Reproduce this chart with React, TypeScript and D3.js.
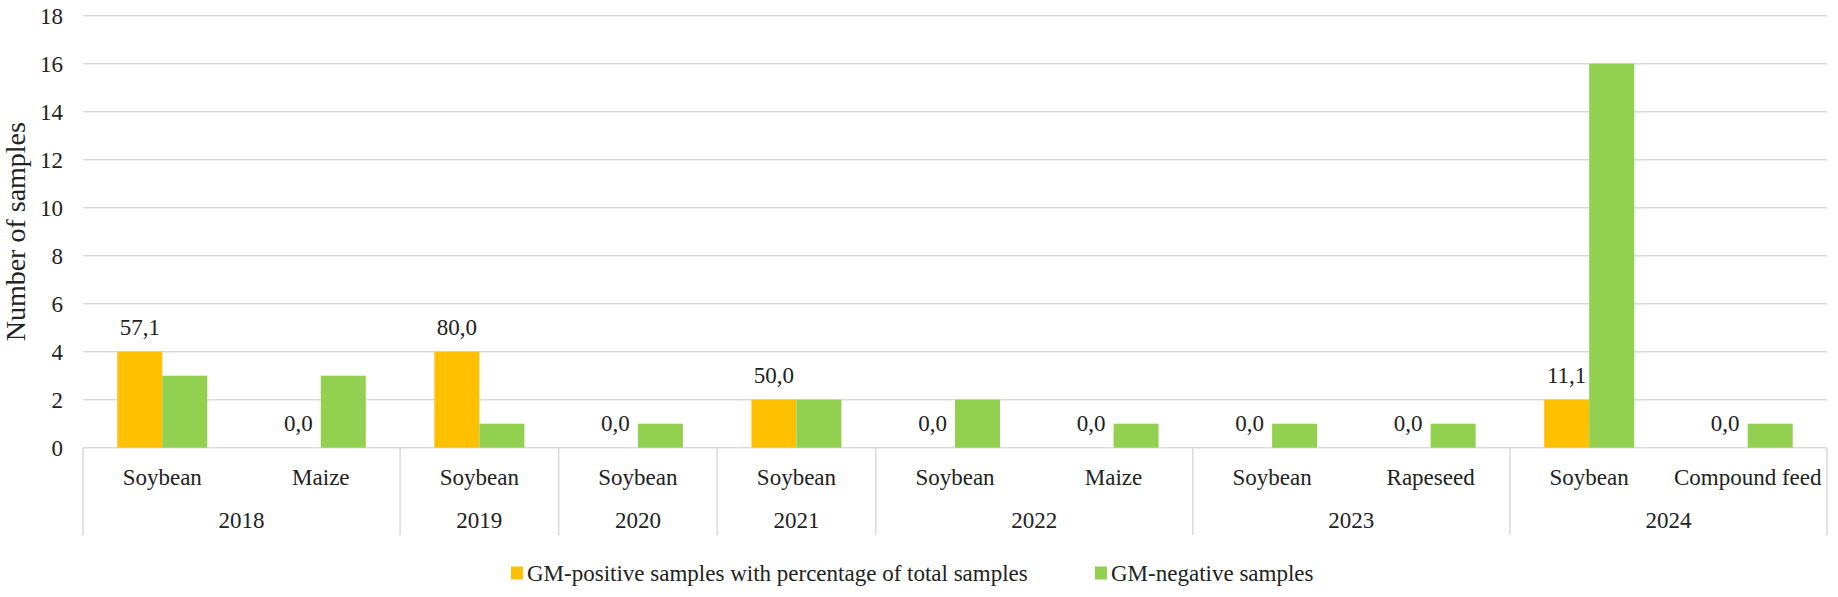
import React from 'react';
import * as d3 from 'd3';

// sample types per year (Excel-style two-level axis)
const categories = [
  'Soybean', 'Maize', 'Soybean', 'Soybean', 'Soybean', 'Soybean', 'Maize',
  'Soybean', 'Rapeseed', 'Soybean', 'Compound feed',
];
const years = [
  '2018', '2018', '2019', '2020', '2021', '2022', '2022',
  '2023', '2023', '2024', '2024',
];
const positive = [4, 0, 4, 0, 2, 0, 0, 0, 0, 2, 0];
const negative = [3, 3, 1, 1, 2, 2, 1, 1, 1, 16, 1];
const percentLabels = ['57,1', '0,0', '80,0', '0,0', '50,0', '0,0', '0,0', '0,0', '0,0', '11,1', '0,0'];
const yTicks = [0, 2, 4, 6, 8, 10, 12, 14, 16, 18];
const seriesNames = ['GM-positive samples with percentage of total samples', 'GM-negative samples'];
const seriesColors = ['#FFC000', '#92D050'];

const W = 1838;
const H = 597;
const FONT = '"Liberation Serif", "Times New Roman", serif';

function drawChart(el: SVGSVGElement) {
  const svg = d3.select(el);
  svg.selectAll('*').remove();

  const left = 83;
  const right = 1827;
  const top = 15.7;
  const bottom = 447.7;

  const idx = categories.map((_, i) => i);
  const x = d3.scaleBand<number>().domain(idx).range([left, right]).padding(0);
  const inner = d3
    .scaleBand<number>()
    .domain([0, 1])
    .range([0, x.bandwidth()])
    .paddingInner(0)
    .paddingOuter(0.762);
  const y = d3.scaleLinear().domain([0, 18]).range([bottom, top]);

  // gridlines
  svg
    .append('g')
    .selectAll('line')
    .data(yTicks)
    .enter()
    .append('line')
    .attr('x1', left)
    .attr('x2', right)
    .attr('y1', (d) => y(d))
    .attr('y2', (d) => y(d))
    .attr('stroke', '#D9D9D9')
    .attr('stroke-width', 1.5);

  // y tick labels
  svg
    .append('g')
    .selectAll('text')
    .data(yTicks)
    .enter()
    .append('text')
    .attr('x', 63)
    .attr('y', (d) => y(d))
    .attr('dy', '0.35em')
    .attr('text-anchor', 'end')
    .attr('font-family', FONT)
    .attr('font-size', 23)
    .attr('fill', '#222')
    .text((d) => d);

  // y title
  svg
    .append('text')
    .attr('transform', `translate(25, ${(top + bottom) / 2}) rotate(-90)`)
    .attr('text-anchor', 'middle')
    .attr('font-family', FONT)
    .attr('font-size', 28)
    .attr('fill', '#222')
    .text('Number of samples');

  // bars
  const series = [positive, negative];
  series.forEach((vals, s) => {
    svg
      .append('g')
      .selectAll('rect')
      .data(vals)
      .enter()
      .append('rect')
      .attr('x', (_, i) => (x(i) as number) + (inner(s) as number))
      .attr('width', inner.bandwidth())
      .attr('y', (d) => y(d))
      .attr('height', (d) => bottom - y(d))
      .attr('fill', seriesColors[s]);
  });

  // percentage labels on GM-positive bars
  svg
    .append('g')
    .selectAll('text')
    .data(positive)
    .enter()
    .append('text')
    .attr('x', (_, i) => (x(i) as number) + (inner(0) as number) + inner.bandwidth() / 2)
    .attr('y', (d) => y(d) - 25)
    .attr('dy', '0.35em')
    .attr('text-anchor', 'middle')
    .attr('font-family', FONT)
    .attr('font-size', 23)
    .attr('fill', '#222')
    .text((_, i) => percentLabels[i]);

  // category labels
  svg
    .append('g')
    .selectAll('text')
    .data(categories)
    .enter()
    .append('text')
    .attr('x', (_, i) => (x(i) as number) + x.bandwidth() / 2)
    .attr('y', 477)
    .attr('dy', '0.35em')
    .attr('text-anchor', 'middle')
    .attr('font-family', FONT)
    .attr('font-size', 23)
    .attr('fill', '#222')
    .text((d) => d);

  // year groups
  const groups: { year: string; start: number; end: number }[] = [];
  years.forEach((yr, i) => {
    const last = groups[groups.length - 1];
    if (last && last.year === yr) last.end = i;
    else groups.push({ year: yr, start: i, end: i });
  });

  const dividers = [left, ...groups.map((g) => (x(g.end) as number) + x.bandwidth())];
  svg
    .append('g')
    .selectAll('line')
    .data(dividers)
    .enter()
    .append('line')
    .attr('x1', (d) => d)
    .attr('x2', (d) => d)
    .attr('y1', bottom)
    .attr('y2', 535)
    .attr('stroke', '#D9D9D9')
    .attr('stroke-width', 1.5);

  svg
    .append('g')
    .selectAll('text')
    .data(groups)
    .enter()
    .append('text')
    .attr('x', (g) => ((x(g.start) as number) + (x(g.end) as number) + x.bandwidth()) / 2)
    .attr('y', 520)
    .attr('dy', '0.35em')
    .attr('text-anchor', 'middle')
    .attr('font-family', FONT)
    .attr('font-size', 23)
    .attr('fill', '#222')
    .text((g) => g.year);

  // legend
  const legendX = [511, 1095];
  const legend = svg
    .append('g')
    .selectAll('g')
    .data(seriesNames)
    .enter()
    .append('g')
    .attr('transform', (_, i) => `translate(${legendX[i]}, 573)`);
  legend
    .append('rect')
    .attr('x', 0)
    .attr('y', -6.5)
    .attr('width', 12)
    .attr('height', 13)
    .attr('fill', (_, i) => seriesColors[i]);
  legend
    .append('text')
    .attr('x', 16)
    .attr('y', 0)
    .attr('dy', '0.35em')
    .attr('font-family', FONT)
    .attr('font-size', 23)
    .attr('fill', '#222')
    .text((d) => d);
}

export default function App() {
  const ref = React.useRef<SVGSVGElement>(null);

  React.useEffect(() => {
    if (ref.current) drawChart(ref.current);
  }, []);

  return (
    <svg
      ref={ref}
      width={W}
      height={H}
      style={{ position: 'absolute', left: 0, top: 0, background: '#fff' }}
    />
  );
}
